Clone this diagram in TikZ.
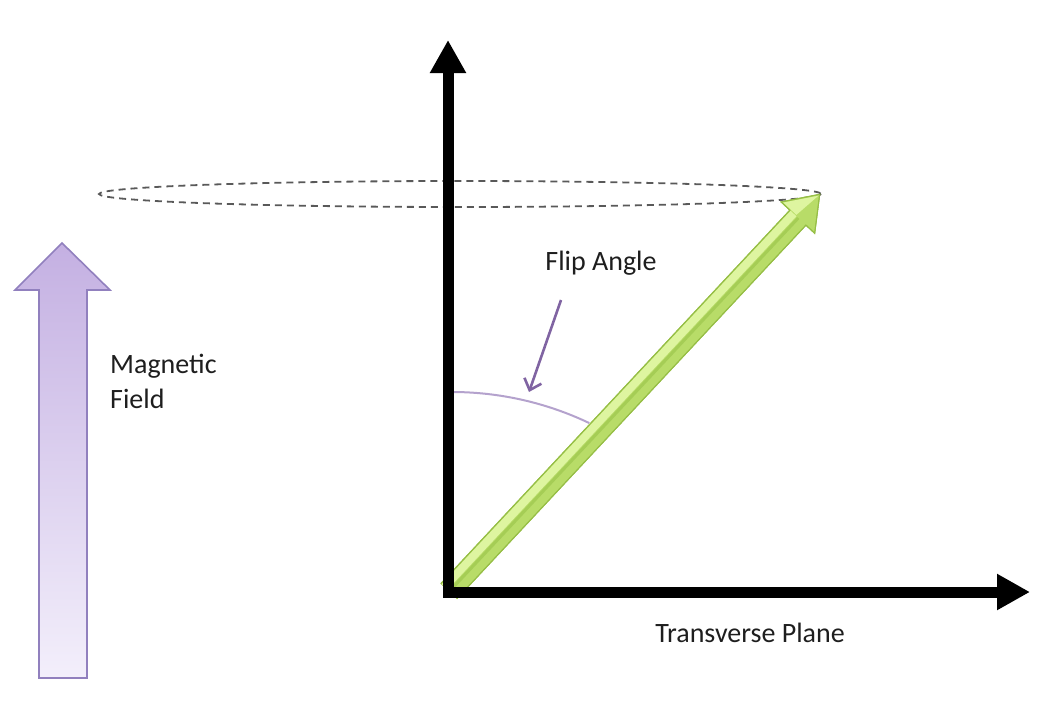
\documentclass[tikz,border=0pt]{standalone}
\usepackage{fontspec}
\setmainfont{Carlito}
\usepackage{tikz}
\usetikzlibrary{arrows.meta,positioning,calc}
\definecolor{fieldtop}{RGB}{196,176,226}
\definecolor{fieldbot}{RGB}{243,239,251}
\definecolor{fieldbar}{RGB}{145,128,190}
\definecolor{vecedge}{RGB}{150,190,70}
\definecolor{veclight}{RGB}{222,245,160}
\definecolor{vecmid}{RGB}{184,220,104}
\definecolor{vecdark}{RGB}{165,205,85}
\definecolor{arcline}{RGB}{180,162,205}
\definecolor{pointline}{RGB}{128,100,162}
\definecolor{txt}{RGB}{30,30,30}

\begin{document}
\begin{tikzpicture}[x=1pt, y=-1pt,
  font=\fontsize{28}{35}\selectfont,
  axis/.style={line width=11pt, line join=miter, {Triangle[length=33pt 0, width=34pt 0]}-{Triangle[length=33pt 0, width=34pt 0]}},
  orbit/.style={draw=black!65, line width=1.8pt, dash pattern=on 7pt off 5pt},
  fieldarrow/.style={draw=fieldbar, line width=1.6pt, top color=fieldtop, bottom color=fieldbot},
  vector/.style={draw=vecedge, line width=1pt, fill=vecmid},
  pointer/.style={draw=pointline, line width=2.6pt, -{Straight Barb[length=10pt, width=18pt, line width=2.6pt]}},
  lbl/.style={text=txt, inner sep=0pt}]
  \useasboundingbox (0,0) rectangle (1056,704);
  % field arrow
  \path[fieldarrow] (62,243) -- (110,290) -- (87,290) -- (87,678) -- (39,678) -- (39,290) -- (15,290) -- cycle;
  \node[lbl, align=left, anchor=north west] (field) at (110,354) {Magnetic\\Field};
  % precession path
  \draw[orbit] (460,194) ellipse[x radius=361, y radius=13];
  % axes
  \coordinate (O) at (448,592);
  \coordinate (ztip) at (448,40);
  \coordinate (xtip) at (1030,592);
  \draw[arcline, line width=2pt] (452,392) arc[start angle=-90, end angle=-64.5, radius=319];
  % magnetisation vector, light and dark bands along the shaft
  \begin{scope}[shift={(449,591)}, rotate=46.94]
    \path[vector] (0,-11) -- (511,-11) -- (511,-23) -- (543,0) -- (511,23) -- (511,11) -- (0,11) -- cycle;
    \fill[veclight] (0,-10) rectangle (511,-2);
    \fill[vecdark] (0,-1) rectangle (511,2);
    \fill[veclight] (512,-21) -- (541,0) -- (512,-3) -- cycle;
    \draw[vecedge, line width=1pt] (0,-11) -- (511,-11) -- (511,-23) -- (543,0) -- (511,23) -- (511,11) -- (0,11);
  \end{scope}
  \draw[axis] (ztip) -- (O) -- (xtip);
  \node[lbl, anchor=base] (flip) at (601,270) {Flip Angle};
  \coordinate (hit) at (529,392);
  \draw[pointer] (561,300) -- (hit);
  \node[lbl, anchor=base] (plane) at (750,642) {Transverse Plane};
\end{tikzpicture}
\end{document}
